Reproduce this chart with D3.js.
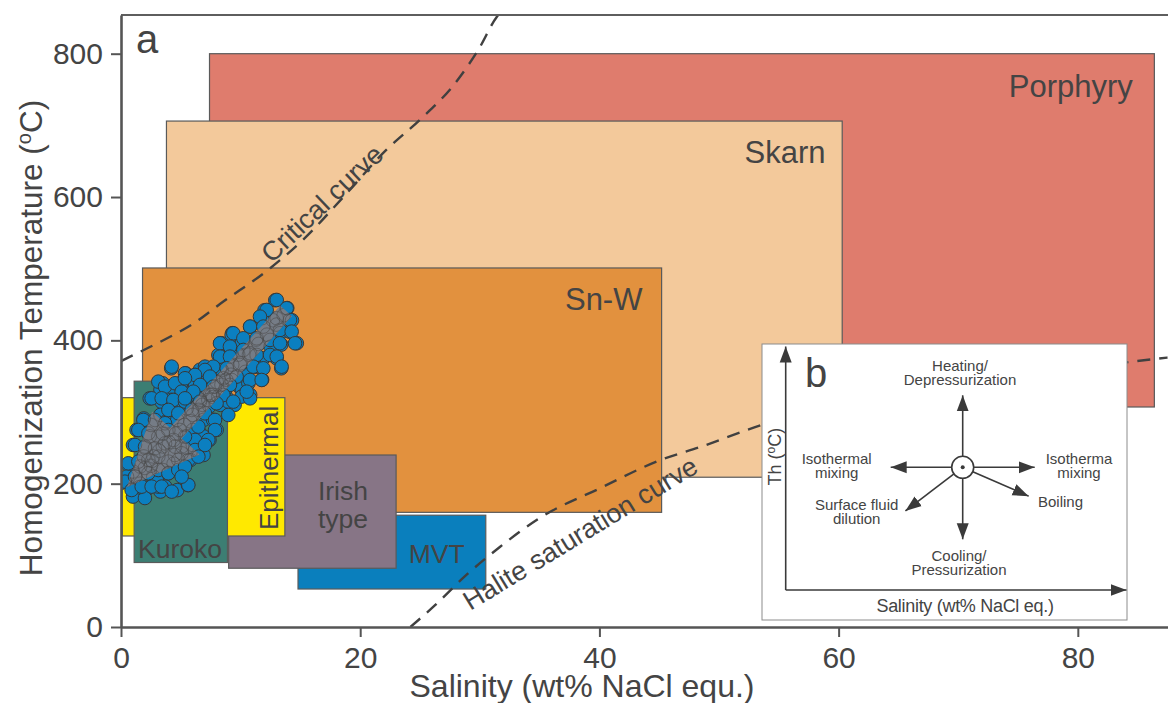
<!DOCTYPE html>
<html>
<head>
<meta charset="utf-8">
<script src="https://cdn.jsdelivr.net/npm/d3@7"></script>
<style>
  html, body { margin: 0; padding: 0; background: #fff; }
  svg { display: block; font-family: "Liberation Sans", Arial, Helvetica, sans-serif; }
</style>
</head>
<body>
<svg id="chart" width="1168" height="703"></svg>
<script>
// ---- axis ticks ----
const xTicks = [0, 20, 40, 60, 80];
const yTicks = [0, 200, 400, 600, 800];

// ---- ore-deposit fields: salinity (wt% NaCl eq.) and Th (°C) ranges ----
const fieldNames  = ["Porphyry", "Skarn", "Sn-W", "MVT", "Irish type", "Epithermal", "Kuroko"];
const fieldSalMin = [7.4, 3.8, 1.8, 14.8, 9.0, 0.1, 1.1];
const fieldSalMax = [86.4, 60.3, 45.2, 30.5, 23.0, 13.7, 8.9];
const fieldThMin  = [307, 209, 160, 53, 82, 127, 90];
const fieldThMax  = [800, 706, 501, 156, 240, 320, 343];

// ---- fluid inclusion measurements ----
const inclSalinity = [
  12.9, 12.0, 13.9, 12.7, 14.3, 11.8, 10.8, 13.3, 14.1, 14.7,
  9.3, 10.2, 11.3, 8.3, 9.0, 8.3, 12.5, 13.4, 11.9, 13.0,
  13.4, 11.3, 10.4, 11.8, 9.8, 10.8, 9.3, 8.3, 7.4, 7.0,
  4.2, 5.4, 6.2, 6.0, 8.0, 8.8, 9.9, 10.8, 9.5, 8.8,
  7.7, 6.6, 5.8, 5.1, 4.0, 3.5, 3.3, 2.4, 3.4, 4.2,
  4.7, 5.5, 6.5, 7.4, 8.3, 1.9, 3.3, 3.8, 4.7, 5.8,
  6.9, 8.0, 7.4, 6.5, 5.5, 5.1, 6.0, 6.9, 5.8, 1.3,
  2.4, 1.0, 1.9, 0.6, 1.0, 0.3, 1.6, 2.7, 3.5, 4.4,
  3.7, 4.7, 5.6, 2.1, 1.2, 3.3, 0.5, 1.6, 2.7, 3.5,
  4.4, 4.9, 6.0, 6.9, 7.7, 8.7, 6.6, 5.1, 3.1, 1.0,
  0.0, 2.0, 1.5, 1.2, 2.0, 2.6, 3.2, 4.0, 4.6, 5.3,
  6.0, 6.8, 7.6, 8.4, 9.2, 10.0, 10.7, 11.5, 12.2, 13.0,
  13.6, 2.5, 3.0, 4.0, 4.5, 2.0, 5.5, 3.5, 2.5,
  9.25, 8.42, 10.09, 9.25, 8.14, 4.24, 5.35, 6.19, 7.02, 7.58,
  8.42, 3.12, 3.68, 4.52, 5.07, 6.19, 6.88, 7.86, 9.25, 10.09,
  10.65, 2.56, 3.40, 4.38, 5.35, 6.47, 7.30, 8.14, 8.97, 10.09,
  10.79, 3.96, 4.79, 5.91, 7.02, 7.86, 8.97, 1.87, 2.84, 3.68,
  1.45, 2.29, 3.12, 3.96, 6.47, 7.86, 7.30, 6.19, 5.35, 1.17,
  2.01, 2.84, 3.68, 4.52, 5.07, 6.19, 7.02, 0.61, 1.45, 2.29,
  3.12, 3.96, 4.79, 5.63, 6.47, 0.33, 1.17, 2.29, 3.12, 3.96,
  4.79, 5.35, 0.89, 1.73, 2.56, 3.40, 4.24, 5.63, 5.07,
  13.02, 12.18, 13.85, 11.62, 13.02, 14.13, 10.79, 11.90, 13.29, 14.27,
  9.39, 10.23, 11.34, 12.46, 13.29, 14.55, 8.28, 9.11, 10.23, 11.34,
  12.46, 13.02, 8.28, 9.11, 7.72, 8.84, 9.95, 11.06, 11.90, 13.43,
  7.02, 6.19, 7.44, 8.56, 9.67, 10.79, 11.76, 5.35, 6.61, 7.72,
  9.11, 10.51, 8.56, 7.44, 6.05, 5.35, 6.61, 7.99, 9.39
];
const inclTh = [
  456, 442, 445, 428, 428, 431, 419, 410, 412, 396,
  410, 398, 401, 396, 384, 380, 391, 394, 375, 375,
  361, 363, 356, 345, 380, 382, 366, 361, 361, 345,
  361, 354, 345, 331, 342, 345, 335, 324, 310, 321,
  321, 317, 326, 331, 331, 340, 331, 319, 314, 317,
  305, 305, 303, 308, 310, 291, 296, 287, 289, 287,
  289, 275, 261, 273, 266, 252, 254, 240, 233, 275,
  266, 254, 238, 226, 217, 203, 200, 210, 219, 228,
  196, 191, 198, 191, 187, 189, 210, 224, 238, 252,
  261, 275, 275, 266, 289, 331, 359, 342, 196, 182,
  201, 180, 195, 210, 222, 232, 246, 258, 270, 282,
  296, 310, 324, 338, 352, 368, 380, 395, 408, 422,
  435, 225, 205, 215, 240, 250, 250, 270, 282,
  407.5, 395.9, 395.9, 382.0, 379.6, 363.3, 354.0, 351.7, 363.3, 356.4,
  358.7, 342.4, 335.4, 340.1, 328.4, 337.8, 330.8, 335.4, 344.7, 333.1,
  340.1, 319.1, 319.1, 316.8, 314.5, 319.1, 316.8, 321.5, 314.5, 321.5,
  319.1, 302.9, 298.2, 302.9, 298.2, 288.9, 295.9, 288.9, 288.9, 284.3,
  274.9, 270.3, 265.6, 274.9, 279.6, 274.9, 261.0, 261.0, 265.6, 254.0,
  251.7, 249.4, 256.3, 251.7, 242.4, 247.0, 254.0, 228.4, 230.8, 233.1,
  237.7, 230.8, 233.1, 233.1, 237.7, 202.8, 209.8, 214.5, 219.1, 214.5,
  219.1, 223.8, 191.2, 195.9, 195.9, 195.9, 188.9, 198.2, 209.8,
  456.4, 442.4, 444.8, 433.1, 430.8, 428.5, 419.2, 419.2, 414.5, 412.2,
  409.9, 402.9, 402.9, 400.6, 395.9, 395.9, 395.9, 391.3, 386.6, 379.6,
  379.6, 377.3, 377.3, 377.3, 363.3, 361.0, 365.7, 363.3, 361.0, 363.3,
  358.7, 351.7, 349.4, 347.1, 349.4, 344.7, 344.7, 347.1, 337.8, 335.4,
  337.8, 328.4, 323.8, 323.8, 328.4, 319.1, 314.5, 312.2, 314.5
];

// ---- phase boundaries ----
const criticalSal = [0, 2.2, 4.1, 6.1, 8.3, 12.5, 15.2, 18.7, 22.2, 25.0, 27.8, 30.0, 31.4, 32.0];
const criticalTh  = [371, 389, 405, 424, 451, 501, 540, 602, 666, 708, 756, 809, 851, 862];
const haliteSal   = [24.2, 26.1, 28.9, 31.7, 35.0, 40.1, 45.1, 48.4, 53.6, 65.0, 75.0, 84.4, 87.5];
const haliteTh    = [0, 28, 73, 112, 152, 194, 233, 251, 282, 325, 350, 370, 376];

// ---- trend of the inclusion population (head at the start) ----
const trendStart = [0.5, 195];
const trendEnd   = [13.8, 441];

// ---- styling ----
const fieldColors = {
  "Porphyry": "#df7c6d", "Skarn": "#f3c99b", "Sn-W": "#e2913e", "MVT": "#0a7fbd",
  "Irish type": "#877586", "Epithermal": "#ffe900", "Kuroko": "#3c7e73"
};
const ink = "#444";

const plot = { left: 121, right: 1168, top: 15, bottom: 627 };

const x = d3.scaleLinear().domain([0, 87.54]).range([plot.left, plot.right]);
const y = d3.scaleLinear().domain([0, 854]).range([plot.bottom, plot.top]);

const svg = d3.select("#chart");
const defs = svg.append("defs");
defs.append("clipPath").attr("id", "plotClip")
  .append("rect")
  .attr("x", plot.left).attr("y", plot.top)
  .attr("width", plot.right - plot.left).attr("height", plot.bottom - plot.top);

const body = svg.append("g").attr("clip-path", "url(#plotClip)");

// deposit fields
const fields = fieldNames.map((name, i) => ({
  name, x0: fieldSalMin[i], x1: fieldSalMax[i], y0: fieldThMin[i], y1: fieldThMax[i]
}));
body.append("g").selectAll("rect").data(fields).join("rect")
  .attr("x", d => x(d.x0))
  .attr("y", d => y(d.y1))
  .attr("width", d => x(d.x1) - x(d.x0))
  .attr("height", d => y(d.y0) - y(d.y1))
  .attr("fill", d => fieldColors[d.name])
  .attr("stroke", "#5a5a5a")
  .attr("stroke-width", 1.2);

// field labels
const fieldLabels = [
  { text: ["Porphyry"], sx: 84.6, ty: 739.7, anchor: "end", size: 31 },
  { text: ["Skarn"], sx: 58.9, ty: 647.6, anchor: "end", size: 31 },
  { text: ["Sn-W"], sx: 43.6, ty: 442.4, anchor: "end", size: 31 },
  { text: ["Kuroko"], sx: 1.42, ty: 96.3, anchor: "start", size: 26.5 },
  { text: ["Irish", "type"], sx: 18.56, ty: 177.2, anchor: "middle", size: 26.5 },
  { text: ["MVT"], sx: 26.4, ty: 89.3, anchor: "middle", size: 26.5 }
];
fieldLabels.forEach(l => {
  const t = body.append("text")
    .attr("x", x(l.sx)).attr("y", y(l.ty))
    .attr("text-anchor", l.anchor)
    .attr("font-size", l.size)
    .attr("fill", ink);
  l.text.forEach((line, k) => {
    t.append("tspan").attr("x", x(l.sx)).attr("dy", k === 0 ? 0 : 28).text(line);
  });
});
body.append("text")
  .attr("transform", `translate(${x(13.1)},${y(221.9)}) rotate(-90)`)
  .attr("text-anchor", "middle")
  .attr("font-size", 26)
  .attr("fill", ink)
  .text("Epithermal");

// phase boundary curves
const curve = d3.line().x(d => x(d[0])).y(d => y(d[1])).curve(d3.curveMonotoneX);
body.append("path")
  .datum(criticalSal.map((s, i) => [s, criticalTh[i]]))
  .attr("d", curve)
  .attr("fill", "none").attr("stroke", "#404040")
  .attr("stroke-width", 2.4).attr("stroke-dasharray", "13,9");
body.append("path")
  .datum(haliteSal.map((s, i) => [s, haliteTh[i]]))
  .attr("d", curve)
  .attr("fill", "none").attr("stroke", "#404040")
  .attr("stroke-width", 2.4).attr("stroke-dasharray", "13,9");

body.append("text")
  .attr("transform", `translate(${x(12.6)},${y(506.6)}) rotate(-43.4)`)
  .attr("font-size", 27).attr("fill", ink)
  .text("Critical curve");
body.append("text")
  .attr("transform", `translate(${x(29.2)},${y(22.3)}) rotate(-31.3)`)
  .attr("font-size", 27).attr("fill", ink)
  .text("Halite saturation curve");

// fluid inclusions
const incl = inclSalinity.map((s, i) => [s, inclTh[i]]);
const R = 6.8;
body.append("g").selectAll("circle").data(incl).join("circle")
  .attr("cx", d => x(d[0])).attr("cy", d => y(d[1])).attr("r", R)
  .attr("fill", "#0b7fc0").attr("stroke", "#383838").attr("stroke-width", 1);

// trend arrow through the inclusion cloud
const p0 = [x(trendStart[0]), y(trendStart[1])];
const p1 = [x(trendEnd[0]), y(trendEnd[1])];
const len = Math.hypot(p1[0] - p0[0], p1[1] - p0[1]);
const u = [(p1[0] - p0[0]) / len, (p1[1] - p0[1]) / len];
const n = [-u[1], u[0]];
const headLen = 73, headHalf = 32, shaftHalf = 8;
const base = [p0[0] + u[0] * headLen, p0[1] + u[1] * headLen];
const off = (p, k) => [p[0] + n[0] * k, p[1] + n[1] * k];
const arrowPts = [
  p0, off(base, headHalf), off(base, shaftHalf), off(p1, shaftHalf),
  off(p1, -shaftHalf), off(base, -shaftHalf), off(base, -headHalf)
];
const arrowPath = "M" + arrowPts.map(p => p.join(",")).join("L") + "Z";
defs.append("clipPath").attr("id", "trendClip").append("path").attr("d", arrowPath);
body.append("path").attr("d", arrowPath).attr("fill", "#797c84").attr("opacity", 0.97);
body.append("g").attr("clip-path", "url(#trendClip)")
  .selectAll("circle").data(incl).join("circle")
  .attr("cx", d => x(d[0])).attr("cy", d => y(d[1])).attr("r", R)
  .attr("fill", "none").attr("stroke", "#4a4a4a").attr("stroke-opacity", 0.55).attr("stroke-width", 1);

// ---- inset b: schematic of fluid evolution paths ----
const inset = { left: 762, top: 344, width: 365, height: 276 };
const ig = svg.append("g").attr("transform", `translate(${inset.left},${inset.top})`);
ig.append("rect")
  .attr("width", inset.width).attr("height", inset.height)
  .attr("fill", "#fff").attr("stroke", "#8c8c8c").attr("stroke-width", 1);

defs.append("marker")
  .attr("id", "ihead").attr("markerUnits", "userSpaceOnUse")
  .attr("viewBox", "0 -7 17 14").attr("refX", 16).attr("refY", 0)
  .attr("markerWidth", 17).attr("markerHeight", 14).attr("orient", "auto")
  .append("path").attr("d", "M0,-6L16,0L0,6Z").attr("fill", "#3a3a3a");

const ix = d3.scaleLinear().domain([0, 1]).range([23.7, 364.5]);
const iy = d3.scaleLinear().domain([0, 1]).range([246, 2.5]);
ig.append("line")
  .attr("x1", ix(0)).attr("y1", iy(0)).attr("x2", ix(0)).attr("y2", iy(1))
  .attr("stroke", "#3a3a3a").attr("stroke-width", 1.6).attr("marker-end", "url(#ihead)");
ig.append("line")
  .attr("x1", ix(0)).attr("y1", iy(0)).attr("x2", ix(1)).attr("y2", iy(0))
  .attr("stroke", "#3a3a3a").attr("stroke-width", 1.6).attr("marker-end", "url(#ihead)");

ig.append("text").attr("x", 43).attr("y", 42.5)
  .attr("font-size", 40).attr("fill", ink).text("b");

const thLabel = ig.append("text")
  .attr("transform", `translate(19,112.7) rotate(-90)`)
  .attr("text-anchor", "middle").attr("font-size", 18).attr("fill", ink);
thLabel.append("tspan").text("Th (");
thLabel.append("tspan").attr("font-size", 12).attr("dy", -6).text("o");
thLabel.append("tspan").attr("dy", 6).text("C)");

ig.append("text").attr("x", 203).attr("y", 267.5)
  .attr("text-anchor", "middle").attr("font-size", 18).attr("letter-spacing", -0.3)
  .attr("fill", ink).text("Salinity (wt% NaCl eq.)");

const center = [200.7, 123.3];
const processAngles = [-90, 90, 180, 0, 23.6, 142.7];
const processLen = 72, ringR = 11;
processAngles.forEach(a => {
  const r = a * Math.PI / 180;
  ig.append("line")
    .attr("x1", center[0] + Math.cos(r) * ringR).attr("y1", center[1] + Math.sin(r) * ringR)
    .attr("x2", center[0] + Math.cos(r) * processLen).attr("y2", center[1] + Math.sin(r) * processLen)
    .attr("stroke", "#3a3a3a").attr("stroke-width", 1.6).attr("marker-end", "url(#ihead)");
});
ig.append("circle").attr("cx", center[0]).attr("cy", center[1]).attr("r", ringR)
  .attr("fill", "#fff").attr("stroke", "#3a3a3a").attr("stroke-width", 1.6);
ig.append("circle").attr("cx", center[0]).attr("cy", center[1]).attr("r", 2)
  .attr("fill", "#3a3a3a");

const processLabels = [
  { lines: ["Heating/", "Depressurization"], x: 198, y: 27, anchor: "middle" },
  { lines: ["Isothermal", "mixing"], x: 74.7, y: 119.5, anchor: "middle" },
  { lines: ["Isotherma", "mixing"], x: 317, y: 119.5, anchor: "middle" },
  { lines: ["Boiling"], x: 276, y: 162.7, anchor: "start" },
  { lines: ["Surface fluid", "dilution"], x: 94.7, y: 165.5, anchor: "middle" },
  { lines: ["Cooling/", "Pressurization"], x: 197, y: 217, anchor: "middle" }
];
processLabels.forEach(l => {
  const t = ig.append("text").attr("x", l.x).attr("y", l.y)
    .attr("text-anchor", l.anchor).attr("font-size", 15)
    .attr("fill", ink);
  l.lines.forEach((line, k) => {
    t.append("tspan").attr("x", l.x).attr("dy", k === 0 ? 0 : 14).text(line);
  });
});

// ---- axes and frame ----
svg.append("line")
  .attr("x1", plot.left).attr("x2", plot.right).attr("y1", plot.top).attr("y2", plot.top)
  .attr("stroke", "#5e5e5e").attr("stroke-width", 2);

const gx = svg.append("g").attr("transform", `translate(0,${plot.bottom})`)
  .call(d3.axisBottom(x).tickValues(xTicks).tickSize(10).tickSizeOuter(0).tickPadding(10));
const gy = svg.append("g").attr("transform", `translate(${plot.left},0)`)
  .call(d3.axisLeft(y).tickValues(yTicks).tickSize(10).tickSizeOuter(0).tickPadding(8));
[gx, gy].forEach(g => {
  g.select(".domain").attr("stroke", "#555").attr("stroke-width", 2.6);
  g.selectAll(".tick line").attr("stroke", "#555").attr("stroke-width", 2);
  g.selectAll(".tick text").attr("font-size", 30).attr("fill", ink)
    .attr("font-family", "'Liberation Sans', Arial, sans-serif");
});

svg.append("text")
  .attr("x", 582).attr("y", 697)
  .attr("text-anchor", "middle").attr("font-size", 32).attr("fill", ink)
  .text("Salinity (wt% NaCl equ.)");

const yTitle = svg.append("text")
  .attr("transform", "translate(42,338) rotate(-90)")
  .attr("text-anchor", "middle").attr("font-size", 31.5).attr("fill", ink);
yTitle.append("tspan").text("Homogenization Temperature (");
yTitle.append("tspan").attr("font-size", 20).attr("dy", -11).text("o");
yTitle.append("tspan").attr("dy", 11).text("C)");

svg.append("text").attr("x", 136).attr("y", 53)
  .attr("font-size", 40).attr("fill", ink).text("a");
</script>
</body>
</html>
